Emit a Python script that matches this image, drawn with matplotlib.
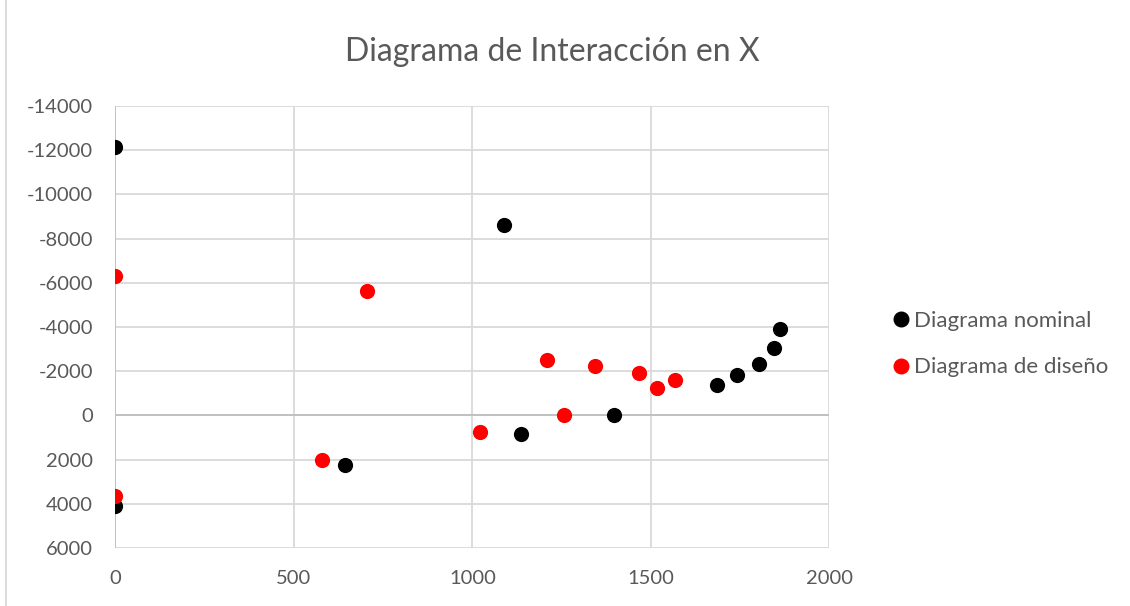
import matplotlib
matplotlib.use("Agg")
import matplotlib.pyplot as plt
from matplotlib.lines import Line2D

# Data (x = moment-like, y = axial load; y axis inverted)
nominal_x = [0, 643, 1136, 1397, 1685, 1742, 1803, 1846, 1862, 1090, 0]
nominal_y = [4090, 2260, 830, -30, -1370, -1825, -2310, -3045, -3925, -8630, -12150]
design_x = [0, 579, 1022, 1258, 1517, 1567, 1466, 1344, 1210, 705, 0]
design_y = [3665, 2035, 755, -30, -1255, -1585, -1915, -2230, -2520, -5610, -6300]

title = "Diagrama de Interacción en X"
labels = ["Diagrama nominal", "Diagrama de diseño"]
xticks = [0, 500, 1000, 1500, 2000]
yticks = [-14000, -12000, -10000, -8000, -6000, -4000, -2000, 0, 2000, 4000, 6000]

plt.rcParams['font.family'] = ['Lato', 'DejaVu Sans']
plt.rcParams['axes.unicode_minus'] = False
txt = '#595959'
grid = '#d9d9d9'

fig = plt.figure(figsize=(11.3, 6.06), dpi=100)
ax = fig.add_axes([115.3/1130, 1-548/606, (829.3-115.3)/1130, (548-106)/606])

ax.set_xlim(0, 2000)
ax.set_ylim(6000, -14000)
ax.set_xticks(xticks)
ax.set_yticks(yticks)
ax.grid(True, color=grid, linewidth=1.3)
ax.set_axisbelow(True)
for s in ax.spines.values():
    s.set_visible(False)
ax.axhline(0, color='#bfbfbf', linewidth=1.3, zorder=1)
ax.axvline(0, color='#bfbfbf', linewidth=1.3, zorder=1)
ax.tick_params(length=0, labelsize=14.5, labelcolor=txt)
ax.tick_params(axis='y', pad=16)
ax.tick_params(axis='x', pad=16)

ax.scatter(nominal_x, nominal_y, s=120, color='black', label=labels[0], zorder=3, linewidths=0)
ax.scatter(design_x, design_y, s=120, color='#ff0000', label=labels[1], zorder=4, linewidths=0)

fig.text(552/1130, 1-52/606, title, ha='center', va='center', fontsize=23, color=txt)

handles = [Line2D([], [], marker='o', linestyle='', color='black', markersize=10.5),
           Line2D([], [], marker='o', linestyle='', color='#ff0000', markersize=10.5)]
leg = fig.legend(handles, labels, loc='center left', bbox_to_anchor=(885/1130, 1-344/606),
                 frameon=False, fontsize=16, labelcolor=txt, handlelength=0.45,
                 handletextpad=0.35, labelspacing=1.2, borderpad=0)

fig.add_artist(Line2D([6/1130, 6/1130], [0, 1], transform=fig.transFigure, color=grid, linewidth=1.3))

fig.savefig("out.png", dpi=100, facecolor='white')
